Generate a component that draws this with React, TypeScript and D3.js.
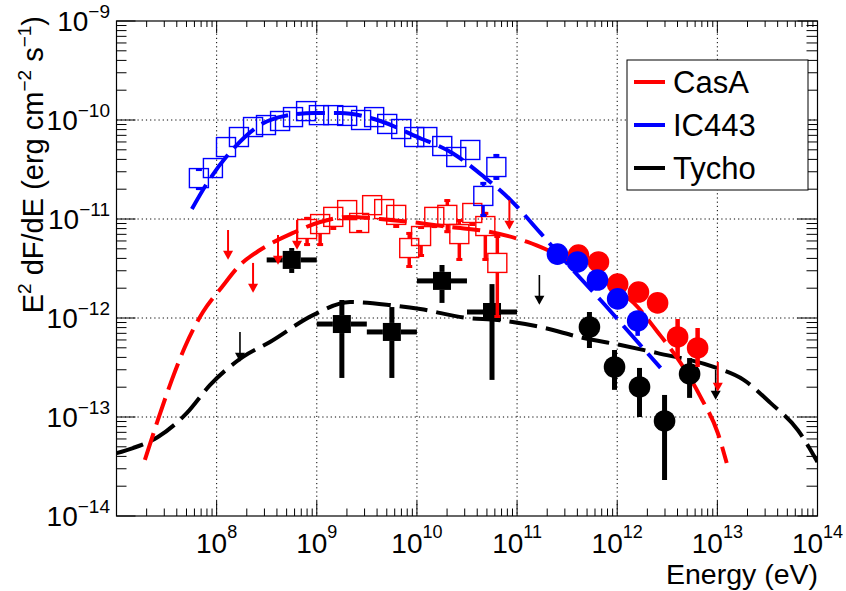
import React from 'react';
import * as d3 from 'd3';

const W = 846, H = 591;
const X0 = 116.5, X1 = 817.5, Y0 = 516, Y1 = 21;

// ---- Model curves (E in eV, E^2 dF/dE in erg cm^-2 s^-1)
const tychoModelE = [1e7, 1.46e7, 2.59e7, 5.05e7, 8.57e7, 1.83e8, 3.41e8, 9.18e8, 2.15e9, 5.41e9, 1.08e10, 3.18e10, 6.35e10, 1.71e11, 4.6e11, 1.08e12, 2.53e12, 9.18e12, 1.83e13, 3.41e13, 6.35e13, 1e14];
const tychoModelF = [4.32e-14, 4.86e-14, 6.28e-14, 1.1e-13, 2.1e-13, 4.04e-13, 5.73e-13, 1.07e-12, 1.45e-12, 1.35e-12, 1.23e-12, 1.0e-12, 9.55e-13, 8.11e-13, 6.28e-13, 5.33e-13, 4.42e-13, 3.2e-13, 2.37e-13, 1.38e-13, 7.4e-14, 3.51e-14];

const casaModelE = [1.92e7, 2.59e7, 3.57e7, 4.82e7, 7.3e7, 1.13e8, 1.71e8, 2.71e8, 5.79e8, 1.08e9, 2.15e9, 4.3e9, 8.57e9, 2.15e10, 5.41e10, 1.27e11, 2.01e11, 5.41e11, 8.97e11, 1.46e12, 2.53e12, 4.3e12, 6.81e12, 1.01e13, 1.24e13];
const casaModelF = [3.68e-14, 9.33e-14, 2.37e-13, 5.09e-13, 1.15e-12, 2.06e-12, 3.43e-12, 4.86e-12, 7.23e-12, 9.33e-12, 1.05e-11, 1.0e-11, 9.33e-12, 8.3e-12, 7.4e-12, 5.86e-12, 4.86e-12, 2.92e-12, 2.06e-12, 1.42e-12, 7.23e-13, 3.51e-13, 1.59e-13, 6.89e-14, 3.43e-14];

const ic443ModelE = [5.66e7, 8.18e7, 1.52e8, 2.71e8, 4.82e8, 9.62e8, 1.71e9, 4.3e9, 1.01e10, 2.25e10, 4.71e10, 8.57e10, 1.71e11, 4.01e11, 6.81e11, 1.36e12, 2.71e12];
const ic443ModelF = [1.26e-11, 2.37e-11, 5.33e-11, 8.89e-11, 1.1e-10, 1.18e-10, 1.18e-10, 9.77e-11, 6.73e-11, 4.65e-11, 2.65e-11, 1.56e-11, 7.23e-12, 2.72e-12, 1.52e-12, 6.89e-13, 3.13e-13];

// ---- IC443 Fermi (open blue squares)
const ic443FermiE = [6.65e7, 9.18e7, 1.24e8, 1.67e8, 2.31e8, 3.11e8, 4.3e8, 5.79e8, 7.82e8, 1.05e9, 1.46e9, 2.01e9, 2.77e9, 3.74e9, 5.05e9, 6.97e9, 9.4e9, 1.27e10, 1.79e10, 2.47e10, 3.41e10, 4.6e10, 6.21e10];
const ic443FermiF = [2.59e-11, 3.27e-11, 5.33e-11, 6.73e-11, 8.49e-11, 8.89e-11, 9.77e-11, 1.07e-10, 1.23e-10, 1.12e-10, 1.12e-10, 1.1e-10, 1.0e-10, 1.07e-10, 9.12e-11, 8.11e-11, 6.73e-11, 6.73e-11, 5.46e-11, 4.23e-11, 4.98e-11, 1.71e-11, 3.35e-11];
const ic443FermiLo = [1.96e-11, 3.0e-11, 4.9e-11, 6.3e-11, 8.0e-11, 8.4e-11, 9.3e-11, 1.01e-10, 1.16e-10, 1.06e-10, 1.06e-10, 1.04e-10, 9.4e-11, 1.0e-10, 8.5e-11, 7.5e-11, 6.2e-11, 6.2e-11, 5.0e-11, 3.8e-11, 4.4e-11, 1.05e-11, 2.48e-11];
const ic443FermiHi = [3.27e-11, 3.55e-11, 5.8e-11, 7.2e-11, 9.0e-11, 9.4e-11, 1.03e-10, 1.13e-10, 1.3e-10, 1.18e-10, 1.18e-10, 1.16e-10, 1.06e-10, 1.14e-10, 9.8e-11, 8.8e-11, 7.3e-11, 7.3e-11, 5.9e-11, 4.7e-11, 5.6e-11, 2.37e-11, 4.54e-11];

// ---- IC443 VERITAS (blue circles)
const ic443VerE = [2.53e11, 4.01e11, 6.35e11, 1.01e12, 1.6e12];
const ic443VerF = [4.42e-12, 3.68e-12, 2.42e-12, 1.56e-12, 9.33e-13];
const ic443VerLo = [3.9e-12, 3.2e-12, 2.1e-12, 1.3e-12, 6.6e-13];
const ic443VerHi = [5.0e-12, 4.2e-12, 2.8e-12, 1.8e-12, 1.13e-12];

// ---- CasA Fermi (open red squares)
const casaFermiE = [8.0e8, 1.08e9, 1.46e9, 2.01e9, 2.65e9, 3.57e9, 4.71e9, 6.21e9, 8.38e9, 1.1e10, 1.49e10, 2.01e10, 2.65e10, 3.57e10, 4.82e10, 6.35e10];
const casaFermiF = [7.92e-12, 8.89e-12, 1.05e-11, 1.23e-11, 9.12e-12, 1.38e-11, 1.26e-11, 1.1e-11, 5.09e-12, 6.73e-12, 1.05e-11, 1.1e-11, 7.04e-12, 1.15e-11, 8.49e-12, 3.6e-12];
const casaFermiLo = [5.33e-12, 5.33e-12, 7.74e-12, 1.05e-11, 7.23e-12, 1.15e-11, 1.05e-11, 8.11e-12, 3.2e-12, 4.13e-12, 8.1e-12, 7.2e-12, 3.77e-12, 8.5e-12, 3.77e-12, 1.0e-12];
const casaFermiHi = [1.05e-11, 1.1e-11, 1.26e-11, 1.4e-11, 1.1e-11, 1.6e-11, 1.45e-11, 1.3e-11, 7.4e-12, 8.49e-12, 1.3e-11, 1.59e-11, 1.0e-11, 1.4e-11, 1.18e-11, 6.89e-12];
const casaFermiUlE = [1.3e8, 2.31e8, 4.1e8, 6.35e8, 8.38e10];
const casaFermiUlF = [7.74e-12, 3.6e-12, 6.89e-12, 9.77e-12, 1.56e-11];

// ---- CasA VERITAS (red circles)
const casaVerE = [4.1e11, 6.5e11, 1.01e12, 1.63e12, 2.53e12, 4.01e12, 6.35e12];
const casaVerF = [4.32e-12, 3.68e-12, 2.2e-12, 1.83e-12, 1.42e-12, 6.43e-13, 4.98e-13];
const casaVerLo = [3.9e-12, 3.3e-12, 1.95e-12, 1.6e-12, 1.2e-12, 4.0e-13, 3.2e-13];
const casaVerHi = [4.8e-12, 4.1e-12, 2.5e-12, 2.1e-12, 1.65e-12, 9.77e-13, 7.92e-13];
const casaVerUlE = [1.01e13];
const casaVerUlF = [3.6e-13];

// ---- Tycho Fermi (black filled squares)
const tychoFermiE = [5.62e8, 1.78e9, 5.62e9, 1.78e10, 5.62e10];
const tychoFermiElo = [3.16e8, 1e9, 3.16e9, 1e10, 3.16e10];
const tychoFermiEhi = [1e9, 3.16e9, 1e10, 3.16e10, 1e11];
const tychoFermiF = [3.86e-12, 8.69e-13, 7.23e-13, 2.37e-12, 1.15e-12];
const tychoFermiLo = [2.85e-12, 2.48e-13, 2.48e-13, 1.42e-12, 2.37e-13];
const tychoFermiHi = [5.09e-12, 1.52e-12, 1.29e-12, 3.43e-12, 2.2e-12];
const tychoUlE = [1.71e8, 1.67e11, 9.62e12];
const tychoUlF = [7.23e-13, 2.72e-12, 2.99e-13];

// ---- Tycho VERITAS (black circles)
const tychoVerE = [5.28e11, 9.4e11, 1.67e12, 2.97e12, 5.28e12];
const tychoVerF = [8.11e-13, 3.2e-13, 2.01e-13, 9.12e-14, 2.72e-13];
const tychoVerLo = [4.98e-13, 1.88e-13, 1.0e-13, 2.31e-14, 1.56e-13];
const tychoVerHi = [1.15e-12, 4.75e-13, 3.13e-13, 1.67e-13, 3.94e-13];

const legendNames = ['CasA', 'IC443', 'Tycho'];
const legendColors = ['#ff0000', '#0000ff', '#000000'];

const xExps = [8, 9, 10, 11, 12, 13, 14];
const yExps = [-14, -13, -12, -11, -10, -9];

const FONT = "'Liberation Sans', Arial, Helvetica, sans-serif";

export default function App() {
  const x = d3.scaleLog().domain([1e7, 1e14]).range([X0, X1]);
  const y = d3.scaleLog().domain([1e-14, 1e-9]).range([Y0, Y1]);
  const line = d3.line<number[]>().x(d => x(d[0])).y(d => y(d[1])).curve(d3.curveMonotoneX);

  const xMinor: number[] = [];
  for (let e = 7; e < 14; e++) for (let m = 2; m <= 9; m++) xMinor.push(m * Math.pow(10, e));
  const yMinor: number[] = [];
  for (let e = -14; e < -9; e++) for (let m = 2; m <= 9; m++) yMinor.push(m * Math.pow(10, e));
  const xMajor = d3.range(7, 15).map(e => Math.pow(10, e));
  const yMajor = d3.range(-14, -8).map(e => Math.pow(10, e));

  const dash = '28 9';

  const errSegs = (cx: number, cy: number, yHi: number, yLo: number, half: number) => {
    const out: [number, number][] = [];
    if (yHi < cy - half) out.push([yHi, cy - half]);
    if (yLo > cy + half) out.push([cy + half, yLo]);
    return out;
  };

  const arrow = (E: number, F: number, color: string, sw: number, key: string) => {
    const cx = x(E), y0 = y(F), tip = y(F * 0.5);
    return (
      <g key={key}>
        <line x1={cx} x2={cx} y1={y0} y2={tip - 2} stroke={color} strokeWidth={sw} />
        <polygon points={`${cx - 5},${tip - 9} ${cx + 5},${tip - 9} ${cx},${tip}`} fill={color} />
      </g>
    );
  };

  const supLabel = (base: string, exp: string, sfs: number, rise: number) => (
    <>
      <tspan>{base}</tspan>
      <tspan dy={-rise} fontSize={sfs}>{exp}</tspan>
    </>
  );

  return (
    <div style={{ position: 'absolute', left: 0, top: 0, width: W, height: H, background: '#fff' }}>
      <svg width={W} height={H} fontFamily={FONT} style={{ display: 'block' }}>
        <defs>
          <clipPath id="plotclip">
            <rect x={X0} y={Y1} width={X1 - X0} height={Y0 - Y1} />
          </clipPath>
        </defs>
        <rect x={0} y={0} width={W} height={H} fill="#fff" />

        {/* grid */}
        <g stroke="#000" strokeWidth={1} strokeDasharray="1.2 3">
          {xMajor.filter(v => v > 1e7 && v < 1e14).map(v => (
            <line key={'gx' + v} x1={x(v)} x2={x(v)} y1={Y1} y2={Y0} />
          ))}
          {yMajor.filter(v => v > 1e-14 && v < 1e-9).map(v => (
            <line key={'gy' + v} x1={X0} x2={X1} y1={y(v)} y2={y(v)} />
          ))}
        </g>

        {/* ticks */}
        <g stroke="#000" strokeWidth={1}>
          {xMajor.map(v => (
            <g key={'tx' + v}>
              <line x1={x(v)} x2={x(v)} y1={Y0} y2={Y0 - 15} />
              <line x1={x(v)} x2={x(v)} y1={Y1} y2={Y1 + 12} />
            </g>
          ))}
          {xMinor.map(v => (
            <g key={'mx' + v}>
              <line x1={x(v)} x2={x(v)} y1={Y0} y2={Y0 - 7.5} />
              <line x1={x(v)} x2={x(v)} y1={Y1} y2={Y1 + 6} />
            </g>
          ))}
          {yMajor.map(v => (
            <g key={'ty' + v}>
              <line x1={X0} x2={X0 + 19} y1={y(v)} y2={y(v)} />
              <line x1={X1} x2={X1 - 20} y1={y(v)} y2={y(v)} />
            </g>
          ))}
          {yMinor.map(v => (
            <g key={'my' + v}>
              <line x1={X0} x2={X0 + 10} y1={y(v)} y2={y(v)} />
              <line x1={X1} x2={X1 - 11} y1={y(v)} y2={y(v)} />
            </g>
          ))}
        </g>

        {/* model curves */}
        <g clipPath="url(#plotclip)" fill="none" strokeWidth={4} strokeDasharray={dash}>
          <path d={line(d3.zip(tychoModelE, tychoModelF)) || ''} stroke="#000" />
          <path d={line(d3.zip(ic443ModelE, ic443ModelF)) || ''} stroke="#0000ff" />
          <path d={line(d3.zip(casaModelE, casaModelF)) || ''} stroke="#ff0000" />
        </g>

        {/* Tycho Fermi */}
        <g>
          {tychoFermiE.map((E, i) => {
            const cx = x(E), cy = y(tychoFermiF[i]);
            const h = 9;
            return (
              <g key={'tf' + i} stroke="#000" strokeWidth={5}>
                <line x1={x(tychoFermiElo[i])} x2={cx - h} y1={cy} y2={cy} />
                <line x1={cx + h} x2={x(tychoFermiEhi[i])} y1={cy} y2={cy} />
                {errSegs(cx, cy, y(tychoFermiHi[i]), y(tychoFermiLo[i]), h).map((s, j) => (
                  <line key={j} x1={cx} x2={cx} y1={s[0]} y2={s[1]} />
                ))}
                <rect x={cx - h} y={cy - h} width={2 * h} height={2 * h} fill="#000" stroke="none" />
              </g>
            );
          })}
          {tychoUlE.map((E, i) => arrow(E, tychoUlF[i], '#000', 1.6, 'tu' + i))}
        </g>

        {/* Tycho VERITAS */}
        <g>
          {tychoVerE.map((E, i) => {
            const cx = x(E), cy = y(tychoVerF[i]);
            return (
              <g key={'tv' + i}>
                <line x1={cx} x2={cx} y1={y(tychoVerHi[i])} y2={y(tychoVerLo[i])} stroke="#000" strokeWidth={5} />
                <circle cx={cx} cy={cy} r={10.8} fill="#000" />
              </g>
            );
          })}
        </g>

        {/* CasA Fermi */}
        <g>
          {casaFermiE.map((E, i) => {
            const cx = x(E), cy = y(casaFermiF[i]);
            const h = 9.5;
            const yh = y(casaFermiHi[i]), yl = y(casaFermiLo[i]);
            return (
              <g key={'cf' + i} stroke="#ff0000">
                {errSegs(cx, cy, yh, yl, h).map((s, j) => (
                  <line key={j} x1={cx} x2={cx} y1={s[0]} y2={s[1]} strokeWidth={3.5} />
                ))}
                {yh < cy - h && <line x1={cx - 3} x2={cx + 3} y1={yh + 1.5} y2={yh + 1.5} strokeWidth={3} />}
                {yl > cy + h && <line x1={cx - 3} x2={cx + 3} y1={yl - 1.5} y2={yl - 1.5} strokeWidth={3} />}
                <rect x={cx - h} y={cy - h} width={2 * h} height={2 * h} fill="none" strokeWidth={1.4} />
              </g>
            );
          })}
          {casaFermiUlE.map((E, i) => arrow(E, casaFermiUlF[i], '#ff0000', 2, 'cu' + i))}
        </g>

        {/* CasA VERITAS */}
        <g>
          {casaVerE.map((E, i) => {
            const cx = x(E), cy = y(casaVerF[i]);
            return (
              <g key={'cv' + i}>
                <line x1={cx} x2={cx} y1={y(casaVerHi[i])} y2={y(casaVerLo[i])} stroke="#ff0000" strokeWidth={4.5} />
                <circle cx={cx} cy={cy} r={10.8} fill="#ff0000" />
              </g>
            );
          })}
          {casaVerUlE.map((E, i) => arrow(E, casaVerUlF[i], '#ff0000', 2, 'cvu' + i))}
        </g>

        {/* IC443 Fermi */}
        <g>
          {ic443FermiE.map((E, i) => {
            const cx = x(E), cy = y(ic443FermiF[i]);
            const h = 9.5;
            const yh = y(ic443FermiHi[i]), yl = y(ic443FermiLo[i]);
            return (
              <g key={'if' + i} stroke="#0000ff">
                {errSegs(cx, cy, yh, yl, h).map((s, j) => (
                  <line key={j} x1={cx} x2={cx} y1={s[0]} y2={s[1]} strokeWidth={3} />
                ))}
                {yh < cy - h && <line x1={cx - 3} x2={cx + 3} y1={yh + 1.5} y2={yh + 1.5} strokeWidth={3} />}
                {yl > cy + h && <line x1={cx - 3} x2={cx + 3} y1={yl - 1.5} y2={yl - 1.5} strokeWidth={3} />}
                <rect x={cx - h} y={cy - h} width={2 * h} height={2 * h} fill="none" strokeWidth={1.4} />
              </g>
            );
          })}
        </g>

        {/* IC443 VERITAS */}
        <g>
          {ic443VerE.map((E, i) => {
            const cx = x(E), cy = y(ic443VerF[i]);
            return (
              <g key={'iv' + i}>
                <line x1={cx} x2={cx} y1={y(ic443VerHi[i])} y2={y(ic443VerLo[i])} stroke="#0000ff" strokeWidth={4.5} />
                <circle cx={cx} cy={cy} r={10.8} fill="#0000ff" />
              </g>
            );
          })}
        </g>

        {/* frame */}
        <rect x={X0} y={Y1} width={X1 - X0} height={Y0 - Y1} fill="none" stroke="#000" strokeWidth={1.2} />

        {/* x tick labels */}
        <g fontSize={28} textAnchor="middle" fill="#000">
          {xExps.map(e => (
            <text key={'xl' + e} x={x(Math.pow(10, e))} y={553}>
              {supLabel('10', String(e), 18, 15)}
            </text>
          ))}
        </g>

        {/* y tick labels */}
        <g fontSize={28} textAnchor="end" fill="#000">
          {yExps.map(e => (
            <text key={'yl' + e} x={110} y={y(Math.pow(10, e)) + 10}>
              {supLabel('10', '\u2212' + String(-e), 19, 13)}
            </text>
          ))}
        </g>

        {/* axis titles */}
        <text x={818} y={584} fontSize={28.5} textAnchor="end">Energy (eV)</text>
        <text transform="translate(43,16) rotate(-90)" fontSize={29} textAnchor="end" style={{ whiteSpace: 'pre' }}>
          <tspan>E</tspan>
          <tspan dy={-12} fontSize={19}>2</tspan>
          <tspan dy={12}>{' dF/dE (erg cm'}</tspan>
          <tspan dy={-12} fontSize={19}>{'\u22122'}</tspan>
          <tspan dy={12}>{' s'}</tspan>
          <tspan dy={-12} fontSize={19}>{'\u22121'}</tspan>
          <tspan dy={12}>)</tspan>
        </text>

        {/* legend */}
        <g>
          <rect x={627} y={60} width={181} height={130} fill="#fff" stroke="#000" strokeWidth={1} />
          {legendNames.map((n, i) => (
            <g key={'lg' + n}>
              <line x1={634} x2={665} y1={82 + i * 43} y2={82 + i * 43} stroke={legendColors[i]} strokeWidth={4} />
              <text x={673} y={93 + i * 43} fontSize={31} fill="#000">{n}</text>
            </g>
          ))}
        </g>
      </svg>
    </div>
  );
}
